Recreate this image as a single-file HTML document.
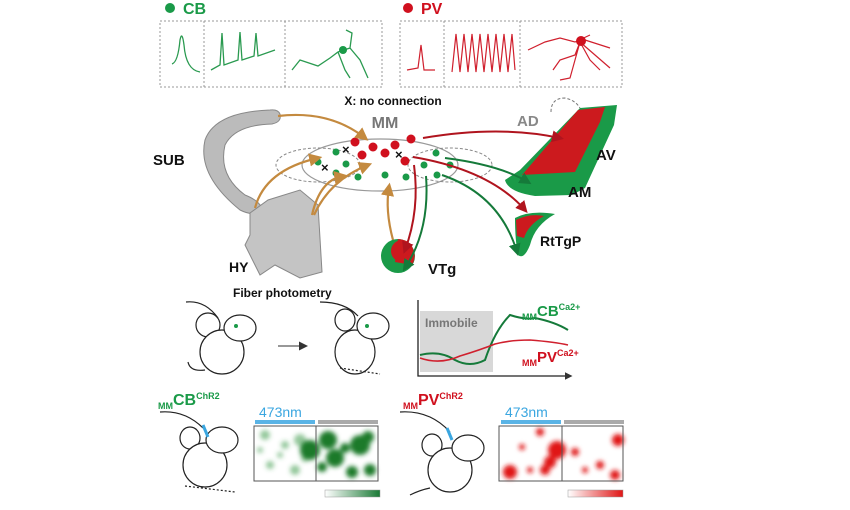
<!DOCTYPE html>
<html><head><meta charset="utf-8"><style>
html,body{margin:0;padding:0;background:#fff;width:850px;height:510px;overflow:hidden}
svg{display:block;font-family:"Liberation Sans",Arial,sans-serif}
</style></head><body>
<svg width="850" height="510" viewBox="0 0 850 510" xmlns="http://www.w3.org/2000/svg">
<defs>
<filter id="bl" x="-20%" y="-20%" width="140%" height="140%"><feGaussianBlur stdDeviation="2.5"/></filter>
<marker id="ab" markerWidth="6" markerHeight="6" refX="4" refY="3" orient="auto"><path d="M0,0L6,3L0,6z" fill="#c48a3f"/></marker>
<marker id="ar" markerWidth="6" markerHeight="6" refX="4" refY="3" orient="auto"><path d="M0,0L6,3L0,6z" fill="#b0141e"/></marker>
<marker id="ag" markerWidth="6" markerHeight="6" refX="4" refY="3" orient="auto"><path d="M0,0L6,3L0,6z" fill="#157a3a"/></marker>
<marker id="ak" markerWidth="6" markerHeight="6" refX="4" refY="3" orient="auto"><path d="M0,0L6,3L0,6z" fill="#333"/></marker>
<linearGradient id="gg"><stop offset="0" stop-color="#fff"/><stop offset="1" stop-color="#1a7a35"/></linearGradient>
<linearGradient id="gr"><stop offset="0" stop-color="#fff"/><stop offset="1" stop-color="#e01515"/></linearGradient>
</defs>
<circle cx="170" cy="8" r="5" fill="#1a9a48"/><text x="183" y="14" font-size="16" font-weight="bold" fill="#1a9a48">CB</text>
<circle cx="408" cy="8" r="5" fill="#d0101e"/><text x="421" y="14" font-size="16" font-weight="bold" fill="#d0101e">PV</text>
<g fill="none" stroke="#999" stroke-dasharray="2,2">
<rect x="160" y="21" width="222" height="66"/><line x1="204" y1="21" x2="204" y2="87"/><line x1="285" y1="21" x2="285" y2="87"/>
<rect x="400" y="21" width="222" height="66"/><line x1="444" y1="21" x2="444" y2="87"/><line x1="520" y1="21" x2="520" y2="87"/>
</g>
<g fill="none" stroke="#2a9a50" stroke-width="1.3">
<path d="M172,64 Q178,62 180,40 Q182,30 184,45 Q186,70 200,72"/>
<path d="M211,70 L220,65 L222,33 L224,65 L238,60 L240,32 L242,60 L254,56 L256,33 L258,56 L275,50"/>
<path d="M292,70 L300,60 L318,66 L330,58 L338,52 L350,48 L352,33 L346,30 M338,52 L345,70 L350,78 M350,48 L360,60 L368,78"/>
</g><circle cx="343" cy="50" r="4" fill="#1a9a48"/>
<g fill="none" stroke="#d0202e" stroke-width="1.2">
<path d="M407,70 L418,68 L421,45 L424,70 L435,70"/>
<path d="M452,72 L456,34 L460,72 L464,34 L468,72 L472,34 L476,72 L480,34 L484,72 L488,34 L492,72 L496,34 L500,72 L504,34 L508,72 L512,34 L515,70"/>
<path d="M528,50 L545,42 L560,38 L575,42 L590,35 M580,42 L575,55 L560,60 L553,70 M580,42 L590,60 L600,70 M585,40 L610,48 M580,42 L570,78 L560,80 M580,42 L610,68"/>
</g><circle cx="581" cy="41" r="5" fill="#d0101e"/>
<text x="393" y="105" font-size="12" font-weight="bold" text-anchor="middle" fill="#111">X: no connection</text>
<path d="M280,114 Q278,109 270,110 Q215,112 205,140 Q197,175 240,210 Q256,218 262,208 Q258,200 245,195 Q218,175 225,145 Q235,125 272,124 Q282,122 280,114z" fill="#bbb" stroke="#888"/>
<text x="153" y="165" font-size="15" font-weight="bold" fill="#111">SUB</text>
<path d="M250,213 L268,200 L300,190 L318,205 L322,272 L300,278 L275,265 L260,275 L245,245 L250,235z" fill="#c4c4c4" stroke="#888"/>
<text x="229" y="272" font-size="14" font-weight="bold" fill="#111">HY</text>
<text x="385" y="128" font-size="16" font-weight="bold" text-anchor="middle" fill="#777">MM</text>
<ellipse cx="380" cy="165" rx="78" ry="26" fill="none" stroke="#999" stroke-width="1.2"/>
<ellipse cx="318" cy="165" rx="42" ry="17" fill="none" stroke="#888" stroke-dasharray="3,2"/>
<ellipse cx="450" cy="165" rx="42" ry="17" fill="none" stroke="#888" stroke-dasharray="3,2"/>
<g fill="#d0101e"><circle cx="355" cy="142" r="4.5"/><circle cx="373" cy="147" r="4.5"/><circle cx="362" cy="155" r="4.5"/><circle cx="385" cy="153" r="4.5"/><circle cx="395" cy="145" r="4.5"/><circle cx="411" cy="139" r="4.5"/><circle cx="405" cy="161" r="4.5"/></g>
<g fill="#1a9a48"><circle cx="336" cy="152" r="3.5"/><circle cx="318" cy="162" r="3.5"/><circle cx="346" cy="164" r="3.5"/><circle cx="336" cy="173" r="3.5"/><circle cx="358" cy="177" r="3.5"/><circle cx="385" cy="175" r="3.5"/><circle cx="406" cy="177" r="3.5"/><circle cx="424" cy="165" r="3.5"/><circle cx="436" cy="153" r="3.5"/><circle cx="450" cy="165" r="3.5"/><circle cx="437" cy="175" r="3.5"/></g>
<g font-size="13" font-weight="bold" fill="#111"><text x="342" y="154">×</text><text x="321" y="172">×</text><text x="395" y="159">×</text></g>
<g fill="none" stroke="#c48a3f" stroke-width="2.2" marker-end="url(#ab)">
<path d="M278,116 Q330,110 365,138"/>
<path d="M255,208 Q265,170 318,158"/>
<path d="M312,215 Q320,180 343,176"/>
<path d="M314,215 Q330,180 368,165"/>
<path d="M393,240 Q385,210 389,187"/>
</g>
<path d="M505,180 L520,170 L580,108 L617,105 L614,125 L585,188 L572,195 L535,196 Q508,192 505,180z" fill="#1a9a48"/>
<path d="M522,175 L578,110 L605,107 L600,122 L575,172z" fill="#cc1a1e"/>
<path d="M551,112 Q551,98 565,98 Q575,100 580,108" fill="none" stroke="#777" stroke-dasharray="3,2"/>
<text x="517" y="126" font-size="15" font-weight="bold" fill="#888">AD</text>
<text x="596" y="160" font-size="15" font-weight="bold" fill="#111">AV</text>
<text x="568" y="197" font-size="15" font-weight="bold" fill="#111">AM</text>
<path d="M515,218 Q530,210 555,214 Q535,225 530,245 Q524,260 518,255 Q515,240 515,218z" fill="#1a9a48"/>
<path d="M516,220 Q530,213 544,216 Q528,225 524,238 L517,236z" fill="#cc1a1e"/>
<text x="540" y="246" font-size="14" font-weight="bold" fill="#111">RtTgP</text>
<circle cx="398" cy="256" r="17" fill="#1a9a48"/><path d="M398,239 A17,17 0 0 1 412,265 L395,262z" fill="#cc1a1e"/><circle cx="402" cy="251" r="11" fill="#cc1a1e"/>
<text x="428" y="274" font-size="15" font-weight="bold" fill="#111">VTg</text>
<g fill="none" stroke-width="2">
<path d="M423,138 Q500,125 560,138" stroke="#b0141e" marker-end="url(#ar)"/>
<path d="M413,157 Q490,170 525,210" stroke="#b0141e" marker-end="url(#ar)"/>
<path d="M414,165 Q420,210 405,250" stroke="#b0141e" marker-end="url(#ar)"/>
<path d="M445,158 Q500,165 528,182" stroke="#157a3a" marker-end="url(#ag)"/>
<path d="M442,175 Q500,195 517,252" stroke="#157a3a" marker-end="url(#ag)"/>
<path d="M426,176 Q430,230 405,268" stroke="#157a3a" marker-end="url(#ag)"/>
</g>
<text x="233" y="297" font-size="12" font-weight="bold" fill="#111">Fiber photometry</text>
<g fill="#fff" stroke="#222" stroke-width="1.2">
<path d="M186,302 Q205,300 218,318" fill="none"/>
<ellipse cx="208" cy="325" rx="12" ry="12"/><ellipse cx="222" cy="352" rx="22" ry="22"/><ellipse cx="240" cy="328" rx="16" ry="13"/>
<path d="M205,370 Q190,372 188,362" fill="none"/>
<path d="M320,302 Q345,302 358,316" fill="none"/>
<ellipse cx="345" cy="320" rx="10" ry="11"/><ellipse cx="355" cy="352" rx="20" ry="22"/><ellipse cx="373" cy="326" rx="16" ry="13"/>
<path d="M340,368 L380,374" stroke-dasharray="2,2" fill="none"/>
</g>
<circle cx="236" cy="326" r="2" fill="#1a9a48"/><circle cx="367" cy="326" r="2" fill="#1a9a48"/>
<line x1="278" y1="346" x2="305" y2="346" stroke="#777" stroke-width="1.5" marker-end="url(#ak)"/>
<rect x="420" y="311" width="73" height="61" fill="#d8d8d8"/>
<text x="425" y="327" font-size="12" font-weight="bold" fill="#777">Immobile</text>
<path d="M418,300 L418,376 L570,376" fill="none" stroke="#222" stroke-width="1.3" marker-end="url(#ak)"/>
<path d="M420,355 Q440,350 455,360 Q470,368 485,360 Q495,330 510,315 Q525,320 535,318 Q555,322 568,330" fill="none" stroke="#157a3a" stroke-width="2"/>
<path d="M420,358 Q440,365 460,356 Q480,350 495,344 Q510,340 530,340 Q555,342 568,345" fill="none" stroke="#d0202e" stroke-width="1.6"/>
<text x="522" y="316" fill="#1a9a48" font-weight="bold"><tspan font-size="9" dy="4">MM</tspan><tspan font-size="15" dy="-4">CB</tspan><tspan font-size="9" dy="-6">Ca2+</tspan></text>
<text x="522" y="362" fill="#d0101e" font-weight="bold"><tspan font-size="9" dy="4">MM</tspan><tspan font-size="15" dy="-4">PV</tspan><tspan font-size="9" dy="-6">Ca2+</tspan></text>
<text x="158" y="405" fill="#1a9a48" font-weight="bold"><tspan font-size="9" dy="4">MM</tspan><tspan font-size="16" dy="-4">CB</tspan><tspan font-size="9" dy="-6">ChR2</tspan></text>
<text x="403" y="405" fill="#d0101e" font-weight="bold"><tspan font-size="9" dy="4">MM</tspan><tspan font-size="16" dy="-4">PV</tspan><tspan font-size="9" dy="-6">ChR2</tspan></text>
<g fill="#fff" stroke="#222" stroke-width="1.2">
<path d="M160,412 Q185,410 203,428" fill="none"/>
<ellipse cx="190" cy="438" rx="10" ry="11"/><ellipse cx="205" cy="465" rx="22" ry="22"/><ellipse cx="222" cy="440" rx="16" ry="13"/>
<path d="M185,486 L235,492" stroke-dasharray="2,2" fill="none"/>
<path d="M400,412 Q430,410 450,432" fill="none"/>
<ellipse cx="432" cy="445" rx="10" ry="11"/><ellipse cx="450" cy="470" rx="22" ry="22"/><ellipse cx="468" cy="448" rx="16" ry="13"/>
<path d="M410,495 Q420,490 430,488" fill="none"/>
</g>
<line x1="203" y1="425" x2="208" y2="437" stroke="#3aa6e0" stroke-width="3"/>
<line x1="447" y1="428" x2="452" y2="440" stroke="#3aa6e0" stroke-width="3"/>
<text x="259" y="417" font-size="14" fill="#3aa6e0">473nm</text>
<text x="505" y="417" font-size="14" fill="#3aa6e0">473nm</text>
<rect x="255" y="420" width="60" height="4" fill="#5ab4e6"/><rect x="318" y="420" width="60" height="4" fill="#aaa"/>
<rect x="501" y="420" width="60" height="4" fill="#5ab4e6"/><rect x="564" y="420" width="60" height="4" fill="#aaa"/>
<g filter="url(#bl)">
<g fill="#3a9a4a" opacity="0.55"><circle cx="265" cy="435" r="5"/><circle cx="285" cy="445" r="4"/><circle cx="300" cy="440" r="6"/><circle cx="270" cy="465" r="4"/><circle cx="295" cy="470" r="5"/><circle cx="280" cy="455" r="3"/><circle cx="260" cy="450" r="3"/><circle cx="305" cy="458" r="4"/></g>
<g fill="#1a7a2a"><circle cx="310" cy="450" r="10"/><circle cx="328" cy="440" r="9"/><circle cx="335" cy="458" r="9"/><circle cx="360" cy="445" r="10"/><circle cx="368" cy="437" r="6"/><circle cx="370" cy="470" r="6"/><circle cx="322" cy="467" r="5"/><circle cx="352" cy="472" r="6"/><circle cx="345" cy="448" r="5"/></g>
<g fill="#e01515"><circle cx="510" cy="472" r="7"/><circle cx="540" cy="432" r="4"/><circle cx="557" cy="450" r="9"/><circle cx="550" cy="462" r="6"/><circle cx="545" cy="470" r="5"/><circle cx="575" cy="452" r="4"/><circle cx="600" cy="465" r="4"/><circle cx="618" cy="440" r="6"/><circle cx="615" cy="475" r="5"/><circle cx="522" cy="447" r="3"/><circle cx="530" cy="470" r="3"/><circle cx="585" cy="470" r="3"/></g>
</g>
<rect x="254" y="426" width="124" height="55" fill="none" stroke="#555"/><line x1="316" y1="426" x2="316" y2="481" stroke="#555"/>
<rect x="499" y="426" width="124" height="55" fill="none" stroke="#555"/><line x1="562" y1="426" x2="562" y2="481" stroke="#555"/>
<rect x="325" y="490" width="55" height="7" fill="url(#gg)" stroke="#999" stroke-width=".5"/>
<rect x="568" y="490" width="55" height="7" fill="url(#gr)" stroke="#999" stroke-width=".5"/>
</svg>
</body></html>
